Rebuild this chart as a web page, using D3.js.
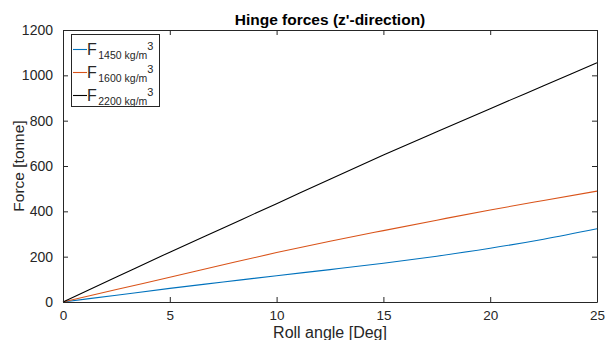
<!DOCTYPE html>
<html>
<head>
<meta charset="utf-8">
<script src="https://cdn.jsdelivr.net/npm/d3@7"></script>
<style>
  body { margin: 0; background: #fff; }
  text { font-family: "Liberation Sans", Arial, sans-serif; fill: #262626; }
</style>
</head>
<body>
<svg width="605" height="340"></svg>
<script>
// Data
var rollAngle = [0, 2.5, 5, 7.5, 10, 12.5, 15, 17.5, 20, 22.5, 25];
var force1450 = [0, 30, 60, 88, 116, 143, 171, 202, 237, 277, 323];
var force1600 = [0, 55, 109, 164, 218, 268, 315, 361, 406, 448, 489];
var force2200 = [0, 110, 220, 327, 434, 542, 648, 751, 853, 954, 1055];
var seriesNames = ["1450 kg/m", "1600 kg/m", "2200 kg/m"];
var seriesColors = ["#0072BD", "#D95319", "#000000"];
var xTicks = [0, 5, 10, 15, 20, 25];
var yTicks = [0, 200, 400, 600, 800, 1000, 1200];

var margin = {top: 30, right: 8, bottom: 38, left: 63},
    width = 605 - margin.left - margin.right,
    height = 340 - margin.top - margin.bottom;

var svg = d3.select("svg");
var g = svg.append("g")
    .attr("transform", "translate(" + margin.left + "," + margin.top + ")");

var x = d3.scaleLinear().domain([0, 25]).range([0, width]);
var y = d3.scaleLinear().domain([0, 1200]).range([height, 0]);

// lines
var allSeries = [force1450, force1600, force2200];
var line = d3.line()
    .x(function(d, i) { return x(rollAngle[i]); })
    .y(function(d) { return y(d); })
    .curve(d3.curveMonotoneX);

g.selectAll("path.series")
    .data(allSeries)
    .join("path")
    .attr("class", "series")
    .attr("d", line)
    .attr("fill", "none")
    .attr("stroke", function(d, i) { return seriesColors[i]; })
    .attr("stroke-width", 1.1);

// axes, ticks pointing inward
function styleAxis(sel) {
    sel.select(".domain").attr("stroke", "#262626");
    sel.selectAll(".tick line").attr("stroke", "#262626");
    sel.selectAll(".tick text").style("font-size", "13.5px").attr("fill", "#262626");
}

var fmt = d3.format("d");

var xAxis = g.append("g")
    .attr("transform", "translate(0," + height + ")")
    .call(d3.axisBottom(x).tickValues(xTicks).tickFormat(fmt).tickSizeInner(-5).tickSizeOuter(0).tickPadding(8));
styleAxis(xAxis);

var xTop = g.append("g")
    .call(d3.axisTop(x).tickValues(xTicks).tickSizeInner(-5).tickSizeOuter(0).tickFormat(""));
styleAxis(xTop);

var yAxis = g.append("g")
    .call(d3.axisLeft(y).tickValues(yTicks).tickFormat(fmt).tickSizeInner(-5).tickSizeOuter(0).tickPadding(10));
styleAxis(yAxis);
yAxis.selectAll(".tick text").style("font-size", "14px");

var yRight = g.append("g")
    .attr("transform", "translate(" + width + ",0)")
    .call(d3.axisRight(y).tickValues(yTicks).tickSizeInner(-5).tickSizeOuter(0).tickFormat(""));
styleAxis(yRight);

// title and labels
svg.append("text")
    .attr("x", margin.left + width / 2)
    .attr("y", 25)
    .attr("text-anchor", "middle")
    .style("font-size", "15.5px")
    .style("font-weight", "bold")
    .style("fill", "#000")
    .text("Hinge forces (z'-direction)");

svg.append("text")
    .attr("x", margin.left + width / 2)
    .attr("y", 338)
    .attr("text-anchor", "middle")
    .style("font-size", "16px")
    .text("Roll angle [Deg]");

svg.append("text")
    .attr("transform", "translate(24," + (margin.top + height / 2) + ") rotate(-90)")
    .attr("text-anchor", "middle")
    .style("font-size", "15.5px")
    .text("Force [tonne]");

// legend
var legend = svg.append("g").attr("transform", "translate(71.5,34.5)");
legend.append("rect")
    .attr("width", 88)
    .attr("height", 72)
    .attr("fill", "#fff")
    .attr("stroke", "#262626")
    .attr("stroke-width", 1);

var items = legend.selectAll("g.item")
    .data(seriesNames)
    .join("g")
    .attr("class", "item")
    .attr("transform", function(d, i) { return "translate(0," + (15 + i * 23) + ")"; });

items.append("line")
    .attr("x1", 1.5).attr("x2", 15.5)
    .attr("stroke", function(d, i) { return seriesColors[i]; })
    .attr("stroke-width", 1.1);

var lbl = items.append("text")
    .attr("x", 15.5)
    .attr("y", 5.5)
    .style("font-size", "16px");
lbl.append("tspan").text("F");
lbl.append("tspan")
    .attr("dx", 1.5)
    .attr("dy", 4)
    .style("font-size", "10.5px")
    .text(function(d) { return d; });
lbl.append("tspan")
    .attr("dy", -9)
    .style("font-size", "11px")
    .text("3");
</script>
</body>
</html>
